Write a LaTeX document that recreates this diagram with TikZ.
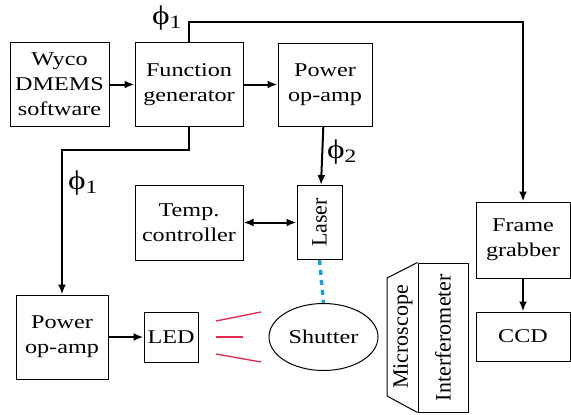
\documentclass[tikz,border=0pt]{standalone}
\usepackage{fontspec}
\usepackage{graphicx}
\setmainfont{Liberation Serif}[FakeStretch=1.24]
\newfontfamily\uprightserif{Liberation Serif}
\usetikzlibrary{arrows.meta,shapes.geometric}
\definecolor{beamred}{RGB}{228,40,78}
\definecolor{beamblue}{RGB}{20,160,225}

\begin{document}
\begin{tikzpicture}[x=1pt, y=-1pt,
    block/.style={draw, line width=1pt, align=center, inner sep=0pt,
        font=\fontsize{19.5}{25}\selectfont},
    sidetext/.style={font=\uprightserif\fontsize{22}{25}\selectfont},
    conn/.style={draw, line width=2pt, -{Latex[length=10pt,width=8pt]}},
    biconn/.style={draw, line width=2pt, {Latex[length=10pt,width=8pt]}-{Latex[length=10pt,width=8pt]}},
    beam/.style={draw, beamred, line width=1.3pt},
    phase/.style={font=\fontsize{27}{27}\selectfont}
]
    % Frame
    \useasboundingbox (0,0) rectangle (571,415);

    % Define coordinates
    \def\topY{84.5}
    \def\midY{222.5}
    \def\lowY{337}

    % Blocks
    \node[block, minimum width=99, minimum height=84] (wyco) at (59.5, \topY) {Wyco\\DMEMS\\software};
    \node[block, minimum width=108, minimum height=84] (fgen) at (189, \topY) {Function\\generator};
    \node[block, minimum width=94, minimum height=83] (ampA) at (325, \topY) {Power\\op-amp};
    \node[block, minimum width=108, minimum height=75] (temp) at (189, \midY) {Temp.\\controller};
    \node[block, sidetext, minimum width=45, minimum height=74] (laser) at (319.5, \midY) {\rotatebox{90}{Laser}};
    \node[block, minimum width=92, minimum height=84] (ampB) at (62, \lowY) {Power\\op-amp};
    \node[block, minimum width=54, minimum height=50] (led) at (171, \lowY) {LED};
    \node[block, ellipse, minimum width=109, minimum height=67] (shutter) at (323.5, \lowY) {Shutter};
    \node[block, minimum width=94, minimum height=76] (frame) at (523, 240) {Frame\\grabber};
    \node[block, minimum width=94, minimum height=49] (ccd) at (523, 336.5) {CCD};

    % Microscope and interferometer
    \node[block, sidetext, minimum width=50, minimum height=149] (ifm) at (443, 337.5) {\rotatebox{90}{Interferometer}};
    \draw[line width=1pt] (ifm.north west) -- (387, 278) -- (387, 396) -- (ifm.south west);
    \node[sidetext, rotate=90] (scope) at (403, 337) {Microscope};

    % Signal path
    \draw[conn] (wyco) -- (fgen);
    \draw[conn] (fgen) -- (ampA);
    \draw[conn] (ampA) -- (laser);
    \draw[biconn] (temp) -- (laser);
    \draw[conn] (ampB) -- (led);
    \draw[conn] (frame) -- (ccd);
    \draw[conn] (fgen.north) -- (189, 22) -| (frame.north);
    \draw[conn] (fgen.south) -- (189, 150) -| (ampB.north);

    % Light
    \draw[draw=beamblue, line width=3.5pt, dash pattern=on 5pt off 5pt] (laser.south) -- (shutter.north);
    \draw[beam] (216, 321) -- (261, 312);
    \draw[beam] (216, \lowY) -- (243, \lowY);
    \draw[beam] (216, 354) -- (261, 362);

    % Phases
    \node[phase] (phA) at (167, 18) {ϕ\textsubscript{1}};
    \node[phase] (phB) at (83, 183) {ϕ\textsubscript{1}};
    \node[phase] (phC) at (342, 152) {ϕ\textsubscript{2}};

\end{tikzpicture}
\end{document}
